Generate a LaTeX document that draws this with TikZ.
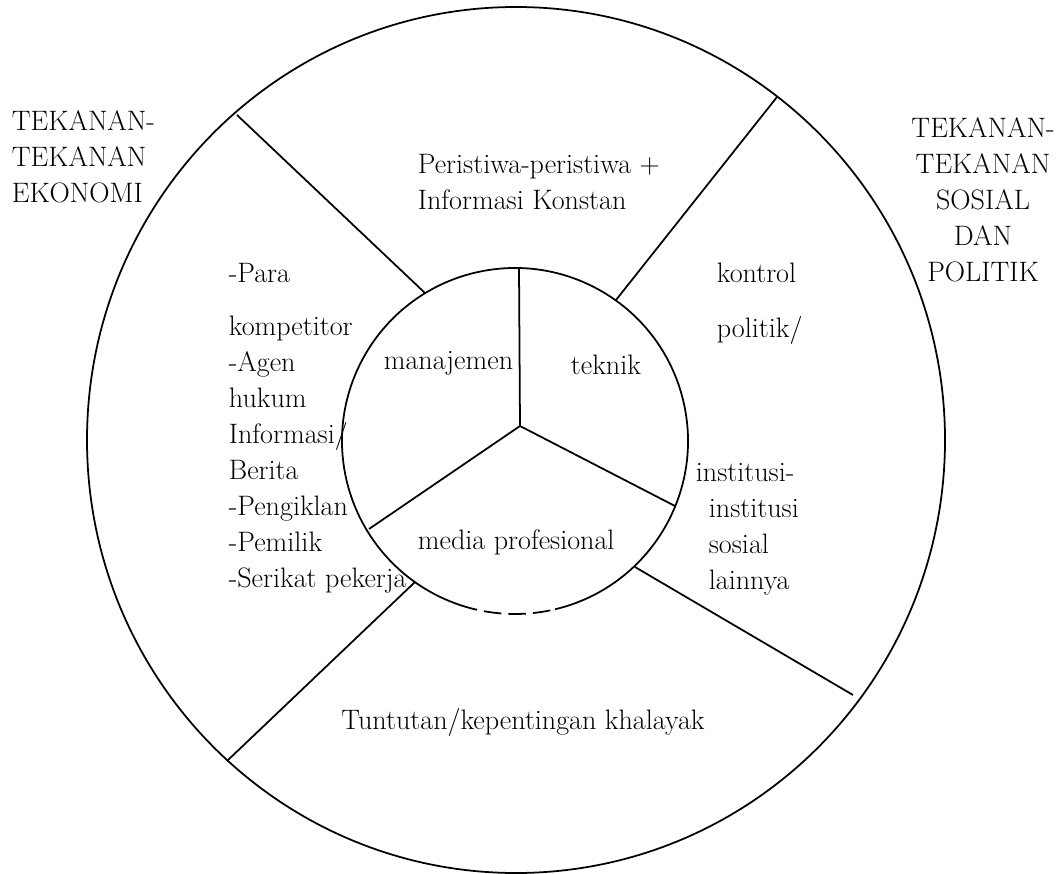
\documentclass[tikz,border=0pt]{standalone}
\usepackage{tikz}
\usetikzlibrary{positioning}

\begin{document}
\begin{tikzpicture}[x=0.02cm, y=0.02cm, line width=1pt,
    txt/.style={inner sep=0pt, font=\fontsize{16}{20.5}\selectfont}]
    \useasboundingbox (0,0) rectangle (1061,-874);
    % outer ring and core
    \draw (516,-440) ellipse [x radius=429, y radius=433];
    \coordinate (core) at (515,-441);
    \draw (core) ++(283.4:173) arc[start angle=283.4, end angle=611.5, radius=173];
    \draw[dash pattern=on 10pt off 4pt] (core) ++(251.5:173) arc[start angle=251.5, end angle=283.4, radius=173];
    % spokes of the core
    \coordinate (hub) at (520,-426);
    \draw (hub) -- (519,-268);
    \draw (hub) -- (369,-529);
    \draw (hub) -- (675,-506);
    % ring dividers
    \draw (237,-115) -- (425,-293);
    \draw (777,-97) -- (616,-300);
    \draw (227,-761) -- (415,-582);
    \draw (853,-695) -- (635,-567);
    % outside pressures
    \node[txt, anchor=north west, align=left] (ekonomi) at (11,-110) {TEKANAN-\\TEKANAN\\EKONOMI};
    \node[txt, anchor=north, align=center] (sospol) at (983,-117) {TEKANAN-\\TEKANAN\\SOSIAL\\DAN\\POLITIK};
    % ring sectors
    \node[txt, anchor=north west, align=left] (peristiwa) at (417,-153) {Peristiwa-peristiwa +\\Informasi Konstan};
    \node[txt, anchor=north west, align=left] (pasar) at (228,-262) {-Para\\[0.34cm]kompetitor\\-Agen\\hukum\\Informasi/\\Berita\\-Pengiklan\\-Pemilik\\-Serikat pekerja};
    \node[txt, anchor=north west, align=left] (kontrol) at (716,-262) {kontrol\\[0.38cm]politik/};
    \node[txt, anchor=north west, align=left] (institusi) at (695,-462) {institusi-\\\hspace*{0.26cm}institusi\\\hspace*{0.26cm}sosial\\\hspace*{0.26cm}lainnya};
    \node[txt] (khalayak) at (523,-722) {Tuntutan/kepentingan khalayak};
    % core sectors
    \node[txt, anchor=west] (manajemen) at (383,-363) {manajemen};
    \node[txt, anchor=west] (teknik) at (570,-365) {teknik};
    \node[txt, anchor=west] (profesional) at (417,-542) {media profesional};
\end{tikzpicture}
\end{document}
